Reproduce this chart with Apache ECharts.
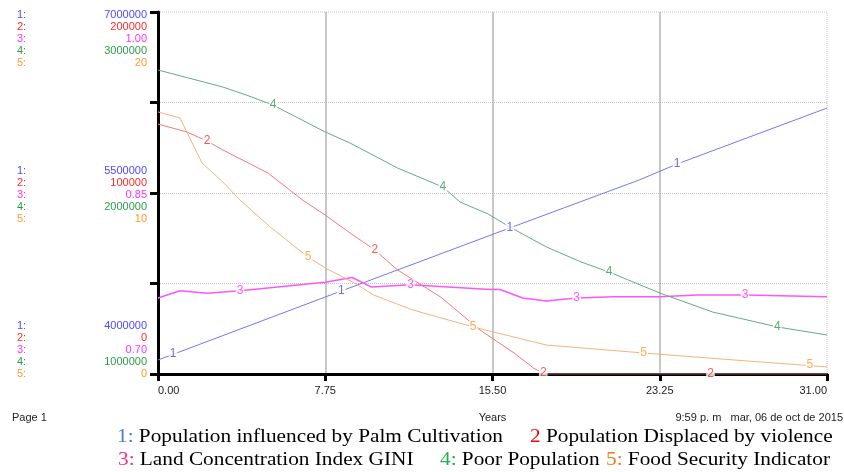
<!DOCTYPE html>
<html><head><meta charset="utf-8">
<script src="https://cdn.jsdelivr.net/npm/echarts@6/dist/echarts.min.js"></script>
<style>html,body{margin:0;padding:0;background:#fff}#c{width:844px;height:472px}</style>
</head><body><div id="c"></div>
<script>
// ---- names ----
const seriesNames = [
  'Population influenced by Palm Cultivation',
  'Population Displaced by violence',
  'Land Concentration Index GINI',
  'Poor Population',
  'Food Security Indicator'
];
const legendKeys = ['1:', '2', '3:', '4:', '5:'];

// ---- series 1: Population influenced by Palm Cultivation ----
const t1 = [0, 7.75, 16.3, 22.3, 24.05, 31];
const v1 = [4116000, 4638000, 5210000, 5608000, 5740000, 6204000];
const lab1T = [0.7, 8.5, 16.3, 24.05];
const lab1V = [4170000, 4688000, 5215000, 5740000];

// ---- series 2: Population Displaced by violence ----
const t2 = [0, 1.34, 2.27, 3.0, 5.1, 6.7, 7.75, 8.9, 10.05, 11.1, 13.1, 14.92, 16.5, 17.4, 17.9, 31];
const v2 = [138100, 133700, 128700, 123800, 111000, 96100, 87800, 77900, 68500, 57500, 42500, 24300, 11600, 3300, 0, 0];
const lab2T = [2.27, 10.05, 17.85, 25.6];
const lab2V = [128700, 68500, 1000, 0];

// ---- series 3: Land Concentration Index GINI ----
const t3 = [0, 1.02, 2.27, 3.8, 7.75, 9.0, 9.9, 11.7, 15.4, 15.85, 16.9, 18.0, 19.4, 21.1, 23.25, 25.0, 27.2, 31];
const v3 = [0.763, 0.769, 0.767, 0.769, 0.776, 0.780, 0.772, 0.774, 0.770, 0.770, 0.763, 0.7605, 0.763, 0.764, 0.764, 0.7655, 0.7655, 0.764];
const lab3T = [3.8, 11.7, 19.4, 27.2];
const lab3V = [0.769, 0.774, 0.763, 0.7655];

// ---- series 4: Poor Population ----
const t4 = [0, 3.0, 4.1, 5.33, 7.75, 8.9, 11.1, 13.2, 14.0, 15.3, 16.3, 18.0, 19.6, 20.9, 23.25, 25.7, 28.7, 31];
const v4 = [2679600, 2585700, 2541000, 2486000, 2337000, 2276000, 2138000, 2033000, 1950000, 1884000, 1812000, 1702000, 1619000, 1563500, 1447500, 1342500, 1260000, 1215500];
const lab4T = [5.33, 13.2, 20.9, 28.7];
const lab4V = [2486000, 2033000, 1563500, 1260000];

// ---- series 5: Food Security Indicator ----
const t5 = [0, 1.02, 2.04, 3.0, 3.8, 5.2, 6.95, 7.75, 9.1, 10.0, 11.8, 14.6, 18.0, 22.5, 27.3, 31];
const v5 = [14.48, 14.14, 11.66, 10.61, 9.61, 8.12, 6.46, 5.86, 5.03, 4.36, 3.54, 2.60, 1.60, 1.16, 0.72, 0.39];
const lab5T = [6.95, 14.6, 22.5, 30.2];
const lab5V = [6.46, 2.60, 1.16, 0.50];

// ---- axes ticks & labels ----
const xTicks = [0, 7.75, 15.5, 23.25, 31];
const xLabels = ['0.00', '7.75', '15.50', '23.25', '31.00'];
const yTicks1 = [4000000, 5500000, 7000000];
const yTicks2 = [0, 100000, 200000];
const yTicks3 = [0.70, 0.85, 1.00];
const yTicks4 = [1000000, 2000000, 3000000];
const yTicks5 = [0, 10, 20];
const yLabels1 = ['4000000', '5500000', '7000000'];
const yLabels2 = ['0', '100000', '200000'];
const yLabels3 = ['0.70', '0.85', '1.00'];
const yLabels4 = ['1000000', '2000000', '3000000'];
const yLabels5 = ['0', '10', '20'];
const ySteps = [500000, 50000, 0.05, 500000, 5];

// ---- build ----
const TS = [t1, t2, t3, t4, t5], VS = [v1, v2, v3, v4, v5];
const LT = [lab1T, lab2T, lab3T, lab4T, lab5T], LV = [lab1V, lab2V, lab3V, lab4V, lab5V];
const YT = [yTicks1, yTicks2, yTicks3, yTicks4, yTicks5];
const YL = [yLabels1, yLabels2, yLabels3, yLabels4, yLabels5];
const axisColors = ['#4b4bff', '#ff2b2b', '#ff33ff', '#2f9a4a', '#ff9a30'];
const lineColors = ['#7777ee', '#f27a7a', '#ff55ff', '#66aa88', '#f7b27c'];
const markColors = ['#4a4ae0', '#ee3333', '#ff33ff', '#339955', '#ff9933'];
const keyColors = ['#4f7fc0', '#ff0000', '#ee2d8c', '#22b14c', '#e87d1e'];
const SANS = 'Liberation Sans, Arial, sans-serif';
const SERIF = 'Liberation Serif, Times New Roman, serif';

function yFmt(i) {
  return function (val) {
    const ticks = YT[i], labs = YL[i];
    const eps = (ticks[2] - ticks[0]) * 1e-6;
    const k = ticks.findIndex(t => Math.abs(t - val) < eps);
    if (k < 0) return '';
    const off = [i - 4, i - 2, i][k];
    const row = '{n|' + (i + 1) + ':}{v|' + labs[k] + '}';
    const blank = '{e| }';
    const n = Math.abs(off);
    const rows = [];
    if (k === 2) rows.push('{s6| }');
    if (k === 1) rows.push('{s4| }');
    if (off > 0) { for (let j = 0; j < 2 * n; j++) rows.push(blank); rows.push(row); }
    else { rows.push(row); for (let j = 0; j < 2 * n; j++) rows.push(blank); }
    return rows.join('\n');
  };
}

const yAxes = YT.map((ticks, i) => ({
  type: 'value', position: 'left', offset: 0,
  min: ticks[0], max: ticks[2], interval: ySteps[i],
  axisLine: { show: i === 1, onZero: false, lineStyle: { color: '#000', width: 3 } },
  axisTick: { show: i === 1, length: 8, lineStyle: { color: '#000', width: 3 } },
  splitLine: { show: i === 1, showMinLine: false, showMaxLine: false, lineStyle: { color: '#c4c4c4', type: 'dotted', width: 1 } },
  axisLabel: {
    show: true, margin: 11, color: axisColors[i], fontSize: 11, fontFamily: SANS,
    lineHeight: 12, verticalAlign: 'middle',
    formatter: yFmt(i),
    rich: {
      n: { width: 20, align: 'left', fontSize: 11, lineHeight: 12, fontFamily: SANS },
      v: { width: 110, align: 'right', fontSize: 11, lineHeight: 12, fontFamily: SANS },
      e: { fontSize: 11, lineHeight: 12, fontFamily: SANS },
      s6: { fontSize: 4, lineHeight: 6, height: 6 },
      s4: { fontSize: 4, lineHeight: 4, height: 4 }
    }
  }
}));

const series = [];
for (let i = 0; i < 5; i++) {
  series.push({
    name: seriesNames[i], type: 'line', yAxisIndex: i, symbol: 'none', smooth: false,
    data: TS[i].map((t, j) => [t, VS[i][j]]),
    lineStyle: { color: lineColors[i], width: i === 2 ? 1.5 : 1 },
    itemStyle: { color: lineColors[i] },
    z: 3
  });
}
for (let i = 0; i < 5; i++) {
  series.push({
    name: 'lab' + (i + 1), type: 'scatter', yAxisIndex: i,
    symbol: 'circle', symbolSize: 1,
    itemStyle: { color: 'rgba(0,0,0,0)' },
    data: LT[i].map((t, j) => [t, LV[i][j]]),
    label: {
      show: true, position: 'inside', formatter: String(i + 1),
      color: markColors[i], fontSize: 12, fontFamily: SANS,
      backgroundColor: '#fff', padding: [0, 1]
    },
    z: 6
  });
}

// legend-like captions under the chart (two rows)
const legendRows = [[0, 1], [2, 3, 4]];
const legendX = [[117, 530], [118, 440, 606]];
const legendY = [437, 460];
const richKeys = {};
for (let i = 0; i < 5; i++) richKeys['k' + i] = { fill: keyColors[i], fontSize: 19, fontFamily: SERIF };
richKeys.t = { fill: '#000', fontSize: 19, fontFamily: SERIF };
const legendGraphics = [];
legendRows.forEach((row, r) => row.forEach((i, c) => {
  legendGraphics.push({
    type: 'text', x: legendX[r][c], y: legendY[r], scaleX: 1.12, scaleY: 1,
    style: {
      text: '{k' + i + '|' + legendKeys[i] + '}{t| ' + seriesNames[i] + '}',
      rich: richKeys, verticalAlign: 'middle', align: 'left',
      fontSize: 19, fontFamily: SERIF
    }
  });
}));

const option = {
  animation: false,
  backgroundColor: '#fff',
  grid: { left: 158, right: 17, top: 12, bottom: 98, outerBoundsMode: 'none', containLabel: false,
          show: true, borderColor: '#c4c4c4', borderWidth: 1, borderType: 'dotted' },
  xAxis: {
    type: 'value', min: xTicks[0], max: xTicks[xTicks.length - 1], interval: xTicks[1] - xTicks[0],
    name: 'Years', nameLocation: 'middle', nameGap: 38,
    nameTextStyle: { color: '#222', fontSize: 11, fontFamily: SANS },
    axisLine: { onZero: false, lineStyle: { color: '#000', width: 3 } },
    axisTick: { length: 7, lineStyle: { color: '#000', width: 3 } },
    splitLine: { show: true, showMinLine: false, showMaxLine: false, lineStyle: { color: '#b4b4b4', width: 1.5 } },
    axisLabel: {
      color: '#222', fontSize: 11, fontFamily: SANS, margin: 11,
      alignMinLabel: 'left', alignMaxLabel: 'right',
      formatter: v => { const k = xTicks.findIndex(t => Math.abs(t - v) < 1e-6); return k < 0 ? '' : xLabels[k]; }
    }
  },
  yAxis: yAxes,
  graphic: [
    { type: 'text', left: 12, top: 412, style: { text: 'Page 1', fill: '#222', font: '11px ' + SANS } },
    { type: 'text', right: 1, top: 412, style: { text: '9:59 p. m   mar, 06 de oct de 2015', fill: '#222', font: '11px ' + SANS } }
  ].concat(legendGraphics),
  series: series
};
echarts.init(document.getElementById('c')).setOption(option);
</script></body></html>
